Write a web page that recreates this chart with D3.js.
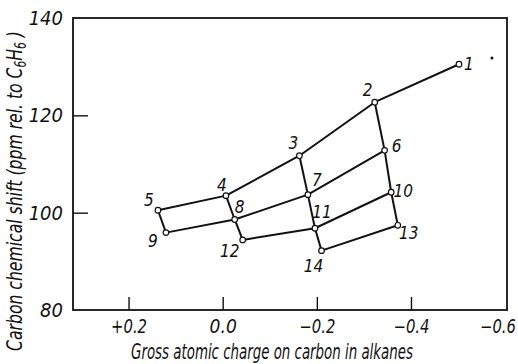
<!DOCTYPE html>
<html>
<head>
<meta charset="utf-8">
<script src="https://cdn.jsdelivr.net/npm/d3@7"></script>
<style>
  html, body { margin: 0; padding: 0; background: #fff; }
  svg { display: block; }
  text { font-family: "DejaVu Sans Condensed", "DejaVu Sans", sans-serif; font-stretch: condensed; font-style: italic; fill: #111; }
</style>
</head>
<body>
<svg id="chart" width="518" height="364"></svg>
<script>
// Carbon chemical shift vs gross atomic charge for alkane carbons
const ids     = [1, 2, 3, 4, 5, 6, 7, 8, 9, 10, 11, 12, 13, 14];
const charges = [-0.502, -0.323, -0.163, -0.007, 0.1375, -0.344, -0.181, -0.0255, 0.1205, -0.358, -0.196, -0.0425, -0.372, -0.210];
const shifts  = [130.5, 122.7, 111.7, 103.5, 100.5, 112.8, 103.7, 98.6, 95.9, 104.2, 96.8, 94.4, 97.4, 92.2];

// connections between numbered carbons
const links = [
  [1, 2], [2, 3], [3, 4], [4, 5],
  [6, 7], [7, 8], [8, 9],
  [10, 11], [11, 12],
  [13, 14],
  [2, 6], [6, 10], [10, 13],
  [3, 7], [7, 11], [11, 14],
  [4, 8], [8, 12],
  [5, 9]
];

// isolated dot in upper right of the plot
const dotCharge = [-0.572];
const dotShift  = [131.8];

const xTicks = [0.2, 0.0, -0.2, -0.4, -0.6];
const xTickLabels = ["+0.2", "0.0", "\u22120.2", "\u22120.4", "\u22120.6"];
const yTicks = [80, 100, 120, 140];

const svg = d3.select("#chart");
const W = 518, H = 364;
const m = { left: 73, right: 11, top: 18, bottom: 54 };

// squeeze a text element horizontally (in its own frame) to a given width
function fitWidth(sel, target) {
  sel.each(function () {
    const w = this.getBBox().width;
    if (w > target) {
      const k = target / w;
      const t = d3.select(this);
      const x0 = +t.attr("x") || 0;
      t.attr("transform", (t.attr("transform") || "") + ` translate(${x0},0) scale(${k},1) translate(${-x0},0)`);
    }
  });
}

const x = d3.scaleLinear().domain([0.318, -0.604]).range([m.left, W - m.right]);
const y = d3.scaleLinear().domain([80, 140]).range([H - m.bottom, m.top]);

// frame
svg.append("rect")
  .attr("x", m.left).attr("y", m.top)
  .attr("width", W - m.right - m.left).attr("height", H - m.bottom - m.top)
  .attr("fill", "none").attr("stroke", "#111").attr("stroke-width", 1.8);

// x axis (inward ticks)
const xAxis = d3.axisBottom(x)
  .tickValues(xTicks)
  .tickFormat((d, i) => xTickLabels[i])
  .tickSize(-13).tickPadding(10);
const gx = svg.append("g").attr("transform", `translate(0,${H - m.bottom})`).call(xAxis);
gx.select(".domain").remove();
gx.selectAll(".tick line").attr("stroke", "#111").attr("stroke-width", 1.4)
  .attr("display", d => (d === -0.6 ? "none" : null));
gx.selectAll(".tick text").attr("font-size", 19).attr("fill", "#111")
  .style("font-family", null);
gx.selectAll(".tick text").call(fitWidth, 36);
// last label sits against the right edge
gx.selectAll(".tick").filter(d => d === -0.6).select("text")
  .attr("text-anchor", "end").attr("x", 517 - x(-0.6));

// y axis (inward ticks)
const yAxis = d3.axisLeft(y)
  .tickValues(yTicks)
  .tickFormat(d3.format("d"))
  .tickSize(-15).tickPadding(10);
const gy = svg.append("g").attr("transform", `translate(${m.left},0)`).call(yAxis);
gy.select(".domain").remove();
gy.selectAll(".tick line").attr("stroke", "#111").attr("stroke-width", 1.4)
  .attr("display", d => (d === 80 || d === 140 ? "none" : null));
gy.selectAll(".tick text").attr("font-size", 20).attr("fill", "#111")
  .style("font-family", null);

// axis titles
const xt = svg.append("text")
  .attr("x", 272).attr("y", 359)
  .attr("text-anchor", "middle").attr("font-size", 21)
  .text("Gross atomic charge on carbon in alkanes");
fitWidth(xt, 282);

const yt = svg.append("text")
  .attr("transform", "translate(22,191) rotate(-90)")
  .attr("text-anchor", "middle").attr("font-size", 22);
yt.append("tspan").text("Carbon chemical shift (ppm rel. to C");
yt.append("tspan").attr("font-size", 15).attr("dy", 4).text("6");
yt.append("tspan").attr("dy", -4).text("H");
yt.append("tspan").attr("font-size", 15).attr("dy", 4).text("6");
yt.append("tspan").attr("dy", -4).text(" )");
fitWidth(yt, 320);

// lookup
const pts = new Map(ids.map((id, i) => [id, { q: charges[i], s: shifts[i] }]));

// network lines
svg.append("g").selectAll("line").data(links).join("line")
  .attr("x1", d => x(pts.get(d[0]).q)).attr("y1", d => y(pts.get(d[0]).s))
  .attr("x2", d => x(pts.get(d[1]).q)).attr("y2", d => y(pts.get(d[1]).s))
  .attr("stroke", "#111").attr("stroke-width", 2);

// open circle markers
svg.append("g").selectAll("circle").data(ids).join("circle")
  .attr("cx", id => x(pts.get(id).q)).attr("cy", id => y(pts.get(id).s))
  .attr("r", 2.8).attr("fill", "#fff").attr("stroke", "#111").attr("stroke-width", 1.2);

svg.append("circle")
  .attr("cx", x(dotCharge[0])).attr("cy", y(dotShift[0]))
  .attr("r", 1.5).attr("fill", "#111");

// number labels placed around each marker
const labelOffset = {
  1: [10, 0], 2: [-7, -12], 3: [-6, -13], 4: [-4, -11], 5: [-9, -10],
  6: [12, -4], 7: [9, -15], 8: [5, -12], 9: [-13, 8], 10: [12, -1],
  11: [7, -16], 12: [-13, 11], 13: [11, 8], 14: [-8, 15]
};
svg.append("g").selectAll("text").data(ids).join("text")
  .attr("x", id => x(pts.get(id).q) + labelOffset[id][0])
  .attr("y", id => y(pts.get(id).s) + labelOffset[id][1])
  .attr("text-anchor", "middle").attr("dominant-baseline", "central")
  .attr("font-size", 17)
  .text(id => id);
</script>
</body>
</html>
